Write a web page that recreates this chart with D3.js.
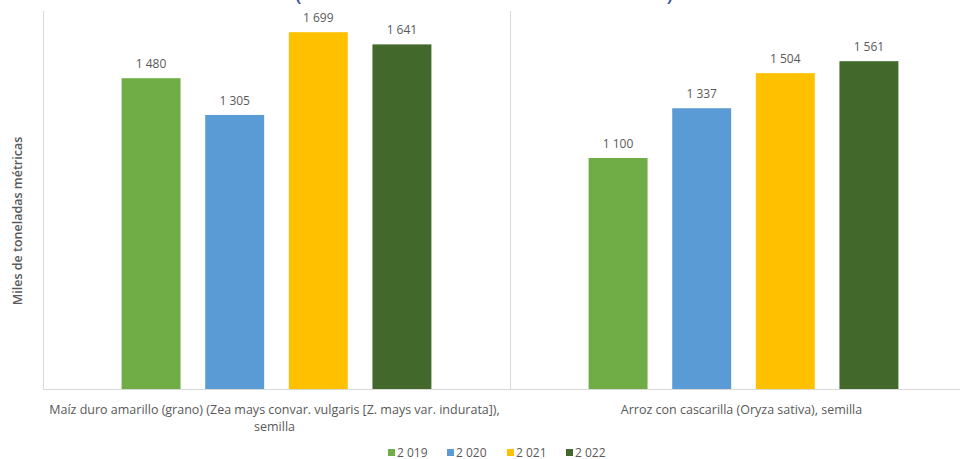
<!DOCTYPE html>
<html><head><meta charset="utf-8">
<script src="https://cdn.jsdelivr.net/npm/d3@7"></script>
<style>body{margin:0;background:#fff}svg{display:block}</style>
</head><body>
<svg id="c" width="960" height="459"></svg>
<script>
const categories = [
  ["Maíz duro amarillo (grano) (Zea mays convar. vulgaris [Z. mays var. indurata]),", "semilla"],
  ["Arroz con cascarilla (Oryza sativa), semilla"]
];
const seriesNames = ["2 019", "2 020", "2 021", "2 022"];
const values2019 = [1480, 1100];
const values2020 = [1305, 1337];
const values2021 = [1699, 1504];
const values2022 = [1641, 1561];
const colors = ["#70AD47", "#5B9BD5", "#FFC000", "#43682B"];
const yTitle = "Miles de toneladas métricas";

(function () {
const series = [values2019, values2020, values2021, values2022];
const svg = d3.select("#c");
const font = "'Open Sans', 'Noto Sans', sans-serif";
const mLeft = 43, mRight = 977, mTop = 11, mBottom = 389;

const x0 = d3.scaleBand().domain(d3.range(categories.length)).range([mLeft, mRight]).paddingInner(0).paddingOuter(0);
const x1 = d3.scaleBand().domain(d3.range(seriesNames.length)).range([0, x0.bandwidth()]).paddingInner(0.295).paddingOuter(0.94);
const y = d3.scaleLinear().domain([0, 1800]).range([mBottom, mTop]);

// title parentheses (cut off at top, as in the reference)
svg.append("text").attr("x", 298).attr("y", 0).attr("text-anchor","middle")
  .attr("font-family", font).attr("font-size", 24).attr("fill", "#2F4FA0").text("(");
svg.append("text").attr("x", 670).attr("y", 0).attr("text-anchor","middle")
  .attr("font-family", font).attr("font-size", 24).attr("fill", "#2F4FA0").text(")");

// axes lines
svg.append("line").attr("x1", mLeft + 0.5).attr("x2", mLeft + 0.5).attr("y1", mTop).attr("y2", mBottom)
  .attr("stroke", "#D9D9D9");
svg.append("line").attr("x1", x0(1) + 0.5).attr("x2", x0(1) + 0.5).attr("y1", mTop).attr("y2", mBottom)
  .attr("stroke", "#D9D9D9");
svg.append("line").attr("x1", mLeft).attr("x2", 960).attr("y1", mBottom + 0.5).attr("y2", mBottom + 0.5)
  .attr("stroke", "#D9D9D9");

// bars
const g = svg.append("g");
categories.forEach((c, ci) => {
  series.forEach((s, si) => {
    const bx = x0(ci) + x1(si);
    g.append("rect").attr("x", bx).attr("y", y(s[ci])).attr("width", x1.bandwidth())
      .attr("height", y(0) - y(s[ci])).attr("fill", colors[si]);
    g.append("text").attr("x", bx + x1.bandwidth() / 2).attr("y", y(s[ci]) - 10)
      .attr("text-anchor", "middle").attr("font-family", font).attr("font-size", 12)
      .attr("fill", "#595959").text(d3.format(",")(s[ci]).replace(/,/g, " "));
  });
  categories[ci].forEach((line, li) => {
    svg.append("text").attr("x", x0(ci) + x0.bandwidth() / 2 - 2).attr("y", 414 + li * 17)
      .attr("text-anchor", "middle").attr("font-family", font).attr("font-size", 12.5)
      .attr("fill", "#595959").text(line);
  });
});

// y title
svg.append("text").attr("transform", "translate(22,221) rotate(-90)").attr("text-anchor", "middle")
  .attr("font-family", font).attr("font-size", 12.5).attr("font-weight", 600)
  .attr("fill", "#595959").text(yTitle);

// legend
const lg = svg.append("g");
const lx = [388, 447, 507, 566];
seriesNames.forEach((n, i) => {
  lg.append("rect").attr("x", lx[i]).attr("y", 449).attr("width", 7).attr("height", 7).attr("fill", colors[i]);
  lg.append("text").attr("x", lx[i] + 9).attr("y", 456.5).attr("font-family", font).attr("font-size", 12)
    .attr("fill", "#595959").text(n);
});
})();
</script>
</body></html>
